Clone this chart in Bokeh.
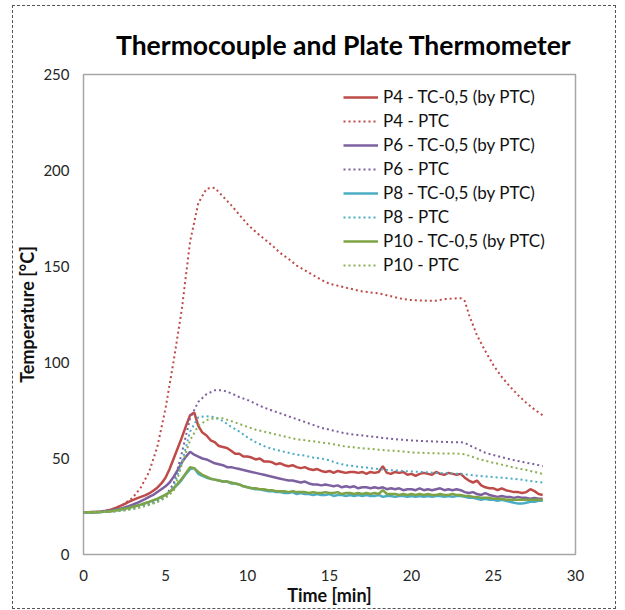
from bokeh.plotting import figure
from bokeh.models import Range1d, Legend, LegendItem
from bokeh.embed import file_html
from bokeh.resources import INLINE

# ---------------- data ----------------
t_tc = [0.0, 0.25, 0.5, 0.75, 1.0, 1.25, 1.5, 1.75, 2.0, 2.25, 2.5, 2.75, 3.0, 3.25, 3.5, 3.75,
        4.0, 4.25, 4.5, 4.75, 5.0, 5.25, 5.5, 5.75, 6.0, 6.25, 6.5, 6.75, 7.0, 7.25, 7.5, 7.75,
        8.0, 8.25, 8.5, 8.75, 9.0, 9.25, 9.5, 9.75, 10.0, 10.25, 10.5, 10.75, 11.0, 11.25, 11.5, 11.75,
        12.0, 12.25, 12.5, 12.75, 13.0, 13.25, 13.5, 13.75, 14.0, 14.25, 14.5, 14.75, 15.0, 15.25, 15.5, 15.75,
        16.0, 16.25, 16.5, 16.75, 17.0, 17.25, 17.5, 17.75, 18.0, 18.25, 18.5, 18.75, 19.0, 19.25, 19.5, 19.75,
        20.0, 20.25, 20.5, 20.75, 21.0, 21.25, 21.5, 21.75, 22.0, 22.25, 22.5, 22.75, 23.0, 23.25, 23.5, 23.75,
        24.0, 24.25, 24.5, 24.75, 25.0, 25.25, 25.5, 25.75, 26.0, 26.25, 26.5, 26.75, 27.0, 27.25, 27.5, 27.75,
        28.0]

p4_tc = [22.0, 22.0, 22.1, 22.1, 22.3, 22.6, 23.0, 23.6, 24.4, 25.3, 26.2, 27.4, 28.3, 29.2, 30.0, 30.8,
         31.8, 33.2, 34.8, 37.0, 40.0, 44.5, 50.0, 55.5, 61.0, 67.0, 72.5, 74.0, 67.0, 63.5, 62.0, 59.5,
         58.5, 56.5, 56.0, 55.5, 54.0, 52.5, 52.5, 51.0, 51.0, 50.5, 49.5, 50.0, 48.5, 48.5, 48.0, 47.0,
         47.5, 46.5, 46.0, 46.5, 45.5, 45.0, 45.5, 44.5, 44.0, 44.5, 43.5, 43.0, 43.5, 42.5, 43.5, 43.0,
         42.5, 43.0, 43.0, 42.5, 43.0, 42.0, 43.0, 42.5, 43.0, 46.0, 42.5, 42.0, 43.0, 42.5, 43.0, 41.5,
         42.0, 41.0, 42.0, 42.5, 42.0, 41.5, 43.0, 42.0, 41.5, 42.5, 42.0, 41.5, 42.0, 40.0, 38.5, 37.5,
         38.5, 36.0, 35.0, 34.5, 34.5, 33.5, 34.5, 33.5, 33.0, 32.5, 32.5, 32.0, 32.5, 34.0, 33.0, 31.5,
         31.0]

p6_tc = [22.0, 22.0, 22.0, 22.1, 22.2, 22.4, 22.6, 23.0, 23.4, 23.9, 24.5, 25.2, 26.0, 26.8, 27.8, 28.8,
         30.0, 31.0, 32.5, 34.0, 35.5, 37.5, 40.5, 44.0, 48.0, 51.0, 53.5, 52.0, 51.0, 50.0, 49.5, 48.5,
         47.5, 47.0, 46.5, 45.5, 45.5, 45.0, 44.5, 44.0, 43.5, 43.0, 42.5, 42.0, 41.5, 41.0, 40.5, 40.0,
         39.5, 39.0, 38.5, 38.5, 38.0, 37.5, 38.0, 37.0, 36.5, 36.5, 36.0, 36.5, 36.0, 35.5, 36.0, 35.0,
         35.5, 35.0, 35.5, 34.5, 35.0, 35.0, 34.5, 35.0, 34.5, 35.0, 34.0, 34.5, 34.0, 34.5, 33.5, 34.0,
         34.0, 33.5, 34.5, 33.5, 34.0, 33.5, 34.0, 34.5, 33.5, 34.0, 33.5, 34.0, 33.5, 32.5, 32.0, 32.5,
         31.5, 31.0, 32.0, 31.0, 30.5, 30.0, 30.5, 30.0, 30.0, 29.5, 30.0, 29.5, 29.5, 29.0, 29.5, 29.0,
         29.0]

p8_tc = [22.0, 22.0, 22.0, 22.0, 22.1, 22.2, 22.4, 22.6, 23.0, 23.4, 23.8, 24.3, 24.8, 25.4, 26.0, 26.7,
         27.4, 28.2, 29.0, 30.0, 31.0, 32.5, 34.5, 36.5, 39.0, 42.0, 44.5, 45.0, 42.0, 41.0, 40.0, 39.5,
         39.0, 38.5, 38.0, 38.0, 37.0, 37.0, 36.5, 35.5, 35.0, 34.5, 34.0, 34.0, 33.5, 33.0, 33.0, 32.5,
         32.5, 32.0, 32.0, 32.5, 31.5, 32.0, 31.5, 31.5, 31.0, 31.5, 31.0, 31.0, 31.5, 30.5, 31.0, 31.0,
         30.5, 31.0, 30.5, 31.0, 30.5, 31.0, 30.5, 30.5, 31.0, 30.0, 30.5, 30.5, 30.0, 30.5, 30.5, 30.0,
         30.5, 30.0, 30.5, 30.0, 30.5, 30.0, 30.5, 30.5, 30.0, 30.5, 30.0, 30.5, 30.5, 30.0, 29.5, 29.5,
         29.0, 28.5, 29.0, 28.5, 28.5, 28.0, 28.5, 28.0, 27.5, 27.0, 26.5, 26.5, 27.0, 27.5, 27.5, 28.0,
         28.0]

p10_tc = [22.0, 22.0, 22.0, 22.0, 22.1, 22.2, 22.4, 22.6, 23.0, 23.4, 23.8, 24.3, 24.8, 25.4, 26.0, 26.7,
          27.4, 28.2, 29.0, 30.0, 31.0, 32.5, 34.5, 37.0, 39.5, 42.5, 45.5, 45.0, 43.0, 41.5, 40.5, 39.5,
          39.0, 38.5, 38.0, 38.0, 37.5, 37.0, 36.5, 35.5, 35.0, 34.5, 34.5, 34.0, 34.0, 33.5, 33.5, 33.0,
          33.0, 33.0, 32.5, 33.0, 32.5, 32.5, 32.5, 32.0, 32.5, 32.0, 32.0, 32.5, 32.0, 32.0, 32.5, 31.5,
          32.0, 32.0, 31.5, 32.0, 31.5, 32.0, 31.5, 32.0, 31.5, 33.5, 31.5, 31.5, 31.5, 31.0, 31.5, 31.0,
          31.5, 31.0, 31.5, 31.0, 31.5, 31.0, 31.0, 31.5, 31.0, 31.0, 31.5, 31.0, 31.0, 30.5, 30.5, 30.0,
          30.0, 29.5, 29.5, 29.5, 29.0, 29.0, 29.0, 28.5, 28.5, 28.5, 28.5, 28.5, 28.5, 28.5, 28.5, 28.5,
          28.5]

t_ptc = [0.0, 0.5, 1.0, 1.5, 2.0, 2.5, 3.0, 3.5, 4.0, 4.5, 5.0, 5.5, 6.0, 6.5, 7.0, 7.5, 8.0, 8.5, 9.0,
         9.5, 10.0, 10.5, 11.0, 11.5, 12.0, 12.5, 13.0, 13.5, 14.0, 14.5, 15.0, 15.5, 16.0, 16.5, 17.0,
         17.5, 18.0, 18.5, 19.0, 19.5, 20.0, 20.5, 21.0, 21.5, 22.0, 22.5, 23.0, 23.25, 23.5, 24.0, 24.5,
         25.0, 25.5, 26.0, 26.5, 27.0, 27.5, 28.0]

p4_ptc = [22.0, 22.0, 22.2, 22.8, 24.0, 26.5, 29.5, 35.0, 43.0, 56.0, 76.0, 101.0, 128.0, 163.0, 183.0,
          190.5, 191.0, 186.5, 182.0, 177.0, 172.0, 168.0, 164.5, 161.0, 157.0, 154.0, 150.5, 148.0, 145.5,
          143.0, 141.0, 140.0, 139.0, 138.0, 137.0, 136.5, 136.0, 135.0, 134.0, 133.0, 132.5, 132.3, 132.2,
          132.2, 133.0, 133.3, 133.5, 132.0, 125.0, 114.0, 106.0, 98.5, 92.5, 87.5, 83.0, 79.0, 75.5, 72.5]

p6_ptc = [22.0, 22.0, 22.0, 22.2, 22.6, 23.2, 24.0, 25.0, 26.3, 27.8, 30.5, 37.0, 53.0, 71.0, 79.5,
          83.5, 85.5, 85.5, 84.0, 82.0, 80.5, 78.5, 76.5, 75.0, 73.5, 72.0, 70.5, 69.0, 67.5, 66.0, 65.0,
          64.0, 63.0, 62.5, 62.0, 61.5, 61.0, 60.5, 60.0, 59.7, 59.4, 59.2, 59.0, 58.8, 58.6, 58.5, 58.5,
          58.2, 57.0, 55.0, 53.0, 51.8, 50.7, 49.6, 48.7, 47.8, 47.0, 46.0]

p8_ptc = [22.0, 22.0, 22.0, 22.2, 22.5, 23.0, 23.8, 24.8, 26.0, 27.5, 30.0, 35.5, 48.0, 64.0, 71.5,
          72.0, 71.5, 69.5, 66.5, 64.0, 61.0, 58.5, 56.5, 55.0, 54.0, 53.0, 52.0, 51.5, 50.5, 50.0, 49.0,
          47.5, 46.5, 46.0, 45.5, 45.0, 44.5, 44.0, 43.8, 43.5, 43.2, 43.0, 42.8, 42.5, 42.3, 42.2, 42.0,
          41.8, 41.5, 41.0, 40.7, 40.3, 40.0, 39.6, 39.2, 38.6, 38.0, 37.5]

p10_ptc = [22.0, 22.0, 22.0, 22.2, 22.5, 23.0, 23.7, 24.6, 25.8, 27.3, 29.5, 33.0, 47.0, 59.5, 67.0,
           70.0, 71.0, 71.0, 69.5, 68.0, 66.5, 65.0, 64.0, 63.0, 62.0, 61.0, 60.0, 59.5, 59.0, 58.3, 57.8,
           57.0, 56.2, 55.8, 55.3, 55.0, 54.6, 54.2, 54.0, 53.6, 53.2, 53.0, 52.8, 52.7, 52.6, 52.6, 52.5,
           52.2, 51.5, 50.0, 48.8, 47.8, 46.8, 45.8, 44.8, 44.0, 43.0, 42.0]

labels_tc = ["P4 - TC-0,5 (by PTC)", "P6 - TC-0,5 (by PTC)", "P8 - TC-0,5 (by PTC)", "P10 - TC-0,5 (by PTC)"]
labels_ptc = ["P4 - PTC", "P6 - PTC", "P8 - PTC", "P10 - PTC"]
colors = ["#BE4B48", "#7D60A0", "#4AACC5", "#7EA345"]
colors_ptc = ["#BE4B48", "#7D60A0", "#4AACC5", "#8BAF52"]
y_ticks = [0, 50, 100, 150, 200, 250]
x_ticks = [0, 5, 10, 15, 20, 25, 30]

FONT = "Lato"

# ---------------- figure ----------------
p = figure(width=604, height=604, output_backend="svg", toolbar_location=None,
           x_range=Range1d(0, 30), y_range=Range1d(0, 250),
           min_border_left=70, min_border_right=42, min_border_top=68, min_border_bottom=56)
p.margin = (5, 0, 0, 12)
p.styles = {"border": "1px dashed #555555"}
p.background_fill_color = "white"
p.border_fill_color = "white"
p.outline_line_color = "#A6A6A6"
p.outline_line_width = 1.5
p.grid.visible = False

p.title.text = "Thermocouple and Plate Thermometer"
p.title.align = "right"
p.title.offset = 4
p.title.standoff = 28
p.title.text_font = FONT
p.title.text_font_size = "26.5px"
p.title.text_font_style = "bold"
p.title.text_color = "#000000"

for ax in (p.xaxis[0], p.yaxis[0]):
    ax.axis_line_color = None
    ax.major_tick_line_color = None
    ax.minor_tick_line_color = None
    ax.major_tick_out = 0
    ax.major_tick_in = 0
    ax.minor_tick_out = 0
    ax.minor_tick_in = 0
    ax.major_label_text_font = FONT
    ax.major_label_text_font_size = "15px"
    ax.major_label_text_color = "#262626"
    ax.axis_label_text_font = FONT
    ax.axis_label_text_font_size = "18px"
    ax.axis_label_text_font_style = "bold"
    ax.axis_label_text_color = "#111111"

p.xaxis.ticker = x_ticks
p.yaxis.ticker = y_ticks
p.xaxis.axis_label = "Time [min]"
p.yaxis.axis_label = "Temperature [°C]"
p.xaxis.major_label_standoff = 15
p.yaxis.major_label_standoff = 14
p.xaxis.axis_label_standoff = 0
p.yaxis.axis_label_standoff = 2

items = []
tc_series = [p4_tc, p6_tc, p8_tc, p10_tc]
ptc_series = [p4_ptc, p6_ptc, p8_ptc, p10_ptc]
for i in range(4):
    r_tc = p.line(t_tc, tc_series[i], line_color=colors[i], line_width=2.5)
    r_ptc = p.line(t_ptc, ptc_series[i], line_color=colors_ptc[i], line_width=2,
                   line_dash="2 3")
    items.append(LegendItem(label=labels_tc[i], renderers=[r_tc]))
    items.append(LegendItem(label=labels_ptc[i], renderers=[r_ptc]))

legend = Legend(items=items, location=(260, 279), padding=0, margin=0, spacing=3,
                glyph_width=35, glyph_height=20, label_height=20, label_standoff=5,
                label_text_font=FONT, label_text_font_size="17px", label_text_color="#111111",
                border_line_color=None, background_fill_alpha=0)
p.add_layout(legend)

open("out.html", "w").write(file_html(p, INLINE))
